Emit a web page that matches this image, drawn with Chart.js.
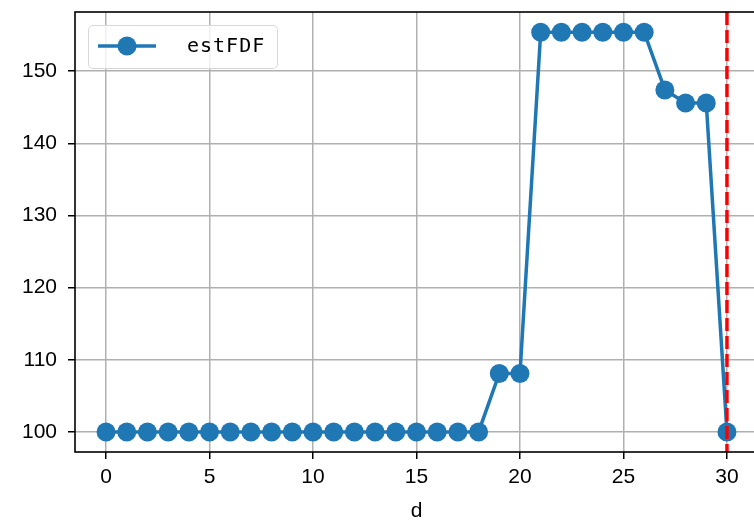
<!DOCTYPE html>
<html><head><meta charset="utf-8">
<script src="https://cdn.jsdelivr.net/npm/chart.js@4"></script>
<style>
html,body{margin:0;padding:0;background:#fff;overflow:hidden;width:754px;height:522px;}
#wrap{position:relative;width:760px;height:522px;}
#legend{position:absolute;left:88px;top:25px;width:190px;height:44px;border:1.5px solid #d8d8d8;border-radius:5px;background:rgba(255,255,255,0.8);box-sizing:border-box;font-family:"DejaVu Sans Mono",monospace;font-size:20px;}
#legend .txt{position:absolute;left:98px;top:7px;white-space:pre;color:#000;letter-spacing:1px;}
#legend svg{position:absolute;left:8px;top:5px;}
</style></head>
<body><div id="wrap"><canvas id="c" width="760" height="522" style="width:760px;height:522px"></canvas>
<div id="legend"><svg width="62" height="30"><line x1="1" y1="15" x2="59" y2="15" stroke="#1f77b4" stroke-width="3.5"/><circle cx="30" cy="15" r="9.5" fill="#1f77b4"/></svg><span class="txt">estFDF</span></div></div>
<script>
const dValues = [0,1,2,3,4,5,6,7,8,9,10,11,12,13,14,15,16,17,18,19,20,21,22,23,24,25,26,27,28,29,30];
const estFDF = [100,100,100,100,100,100,100,100,100,100,100,100,100,100,100,100,100,100,100,108.1,108.1,155.4,155.4,155.4,155.4,155.4,155.4,147.4,145.6,145.6,100];
const xTicks = [0,5,10,15,20,25,30];
const yTicks = [100,110,120,130,140,150];
const vLineX = 30;

const FONT = '"Liberation Sans",Arial,sans-serif';

const frame = {
  id:'frame',
  afterDatasetsDraw(chart){
    const {ctx, chartArea:a, scales} = chart;
    const px = scales.x.getPixelForValue(vLineX);
    ctx.save();
    ctx.strokeStyle = 'red'; ctx.lineWidth = 3.5; ctx.setLineDash([13,5]);
    ctx.beginPath(); ctx.moveTo(px, a.top); ctx.lineTo(px, a.bottom); ctx.stroke();
    ctx.restore();
  },
  afterDraw(chart){
    const {ctx, chartArea:a} = chart;
    ctx.save();
    ctx.strokeStyle = '#000'; ctx.lineWidth = 1.6;
    ctx.strokeRect(a.left, a.top, a.right-a.left, a.bottom-a.top);
    ctx.restore();
  }
};
function noPad(s){ s.paddingLeft=0; s.paddingRight=0; s.paddingTop=0; s.paddingBottom=0; }

new Chart(document.getElementById('c'), {
  type:'scatter',
  data:{datasets:[{
    label:'estFDF',
    data: dValues.map((d,i)=>({x:d,y:estFDF[i]})),
    showLine:true,
    borderColor:'#1f77b4', backgroundColor:'#1f77b4',
    borderWidth:3.5, pointRadius:9.5, pointHoverRadius:9.5, pointBorderWidth:0,
    clip:false
  }]},
  options:{
    responsive:false, animation:false, devicePixelRatio:1,
    layout:{autoPadding:false, padding:{top:12,right:2,left:0,bottom:0}},
    plugins:{legend:{display:false}, tooltip:{enabled:false}},
    scales:{
      x:{type:'linear', min:-1.5, max:31.5,
        afterBuildTicks(s){ s.ticks = xTicks.map(v=>({value:v})); },
        afterFit(s){ s.height = 70; noPad(s); },
        grid:{color:'#b0b0b0', lineWidth:1.5, tickColor:'#000', tickLength:7, tickWidth:1.5},
        border:{display:false},
        ticks:{color:'#000', font:{family:FONT,size:21}, padding:6, maxRotation:0},
        title:{display:true, text:'d', color:'#000', font:{family:FONT,size:21}, padding:{top:0,bottom:-2}}
      },
      y:{type:'linear', min:97.22, max:158.2,
        afterBuildTicks(s){ s.ticks = yTicks.map(v=>({value:v})); },
        afterFit(s){ s.width = 75; noPad(s); },
        grid:{color:'#b0b0b0', lineWidth:1.5, tickColor:'#000', tickLength:7, tickWidth:1.5},
        border:{display:false},
        ticks:{color:'#000', font:{family:FONT,size:21}, padding:11}
      }
    }
  },
  plugins:[frame]
});
</script></body></html>
